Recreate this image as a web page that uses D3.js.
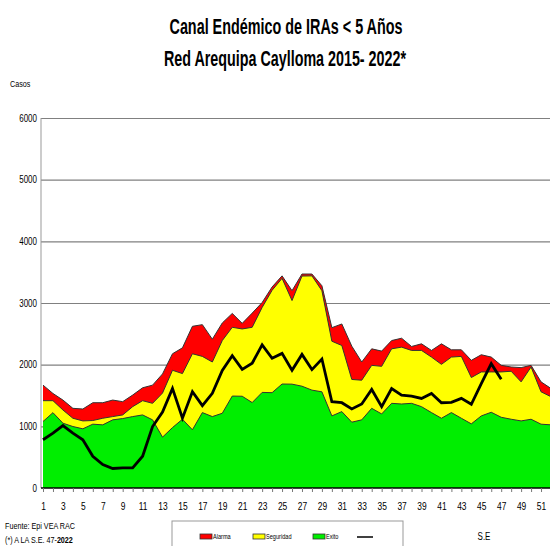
<!DOCTYPE html>
<html>
<head>
<meta charset="utf-8">
<script src="https://cdn.jsdelivr.net/npm/d3@7"></script>
<style>
    body { margin: 0; background: white; }
    svg { display: block; }
    .narrow { font-family: "Liberation Sans Narrow", "Arial Narrow", "Liberation Sans", Arial, sans-serif; }
</style>
</head>
<body>
<div id="chart"></div>
<script>

// semanas epidemiologicas
var semanas = d3.range(1, 53);

// limites del canal endemico (techo de cada zona)
var alarma = [1668, 1533, 1426, 1292, 1281, 1383, 1383, 1426, 1400, 1507, 1625, 1668, 1850,
    2177, 2273, 2622, 2649, 2413, 2676, 2831, 2670, 2836, 3008, 3260, 3440, 3200,
    3470, 3470, 3280, 2600, 2660, 2300, 2043, 2257, 2220, 2391, 2429, 2295, 2338,
    2231, 2338, 2241, 2241, 2070, 2161, 2123, 1989, 1962, 1952, 1989, 1721, 1614];

var seguridad = [1416, 1416, 1265, 1131, 1088, 1094, 1131, 1158, 1185, 1319, 1416, 1373, 1540,
    1909, 1855, 2177, 2134, 2043, 2391, 2606, 2579, 2606, 2928, 3206, 3400, 3040,
    3437, 3440, 3200, 2380, 2311, 1760, 1748, 1989, 1973, 2257, 2284, 2231, 2231,
    2123, 2005, 2123, 2134, 1791, 1882, 1882, 1882, 1893, 1721, 1962, 1560, 1480];

var exito = [1078, 1222, 1051, 997, 960, 1035, 1024, 1105, 1126, 1158, 1185, 1105, 825,
    980, 1115, 944, 1223, 1158, 1212, 1491, 1488, 1385, 1550, 1546, 1686, 1684,
    1651, 1587, 1560, 1169, 1239, 1067, 1105, 1292, 1201, 1373, 1362, 1373, 1319,
    1223, 1131, 1223, 1131, 1040, 1169, 1228, 1147, 1115, 1088, 1115, 1035, 1024];

// casos 2022 hasta la S.E. 47
var casos2022 = [783, 890, 1013, 890, 783, 515, 381, 316, 327, 327, 515, 997, 1230,
    1615, 1133, 1562, 1335, 1535, 1905, 2146, 1924, 2023, 2320, 2104, 2183, 1909,
    2166, 1920, 2091, 1399, 1383, 1282, 1362, 1598, 1319, 1614, 1507, 1491, 1453,
    1534, 1383, 1389, 1453, 1357, 1694, 2016, 1764];

var yTicks = [0, 1000, 2000, 3000, 4000, 5000, 6000];
var xTicks = d3.range(1, 53, 2);

var zonas = [
    {nombre: "Alarma", valores: alarma, color: "#ff0000"},
    {nombre: "Seguridad", valores: seguridad, color: "#ffff00"},
    {nombre: "Exito", valores: exito, color: "#00ee00"}
];

var width = 550, height = 546;

var svg = d3.select("#chart").append("svg")
    .attr("width", width)
    .attr("height", height)
    .attr("class", "narrow");

var x = d3.scaleLinear().domain([1, 52]).range([43, 551]);
var y = d3.scaleLinear().domain([0, 6000]).range([488, 118]);

// titulo
svg.append("text")
    .attr("x", 286).attr("y", 34)
    .attr("text-anchor", "middle")
    .attr("font-size", 22).attr("font-weight", "bold")
    .attr("textLength", 233).attr("lengthAdjust", "spacingAndGlyphs")
    .attr("class", "fijo")
    .text("Canal Endémico de IRAs < 5 Años");
svg.append("text")
    .attr("x", 285).attr("y", 66)
    .attr("text-anchor", "middle")
    .attr("font-size", 22).attr("font-weight", "bold")
    .attr("textLength", 242).attr("lengthAdjust", "spacingAndGlyphs")
    .attr("class", "fijo")
    .text("Red Arequipa Caylloma 2015- 2022*");

svg.append("text")
    .attr("x", 10).attr("y", 87)
    .attr("font-size", 9)
    .text("Casos");

// lineas de la grilla
svg.append("g")
    .attr("transform", "translate(41,0)")
    .call(d3.axisLeft(y).tickValues(yTicks).tickSize(-(width - 41)).tickFormat(d3.format("d")))
    .call(function (g) {
        g.select(".domain").remove();
        g.selectAll(".tick line").attr("stroke", "#808080").attr("stroke-width", 1.2)
            .filter(function (d) { return d === 0; }).remove();
        g.selectAll(".tick text").attr("x", -4).attr("font-size", 10)
            .attr("font-family", null).attr("fill", "#000");
    });

// areas del canal
var area = d3.area()
    .x(function (d, i) { return x(semanas[i]); })
    .y0(y(0))
    .y1(function (d) { return y(d); });

var borde = d3.line()
    .x(function (d, i) { return x(semanas[i]); })
    .y(function (d) { return y(d); });

zonas.forEach(function (z) {
    svg.append("path")
        .datum(z.valores)
        .attr("d", area)
        .attr("fill", z.color);
    svg.append("path")
        .datum(z.valores)
        .attr("d", borde)
        .attr("fill", "none")
        .attr("stroke", "#333")
        .attr("stroke-width", 1);
});

// linea de casos 2022
svg.append("path")
    .datum(casos2022)
    .attr("d", borde)
    .attr("fill", "none")
    .attr("stroke", "#000")
    .attr("stroke-width", 2.8)
    .attr("stroke-linejoin", "miter");

// eje y
svg.append("line")
    .attr("x1", 41).attr("x2", 41)
    .attr("y1", y(6000)).attr("y2", y(0))
    .attr("stroke", "#999");

// eje x
svg.append("g")
    .attr("transform", "translate(0," + y(0) + ")")
    .call(d3.axisBottom(x).tickValues(semanas).tickSize(4).tickFormat(function (d) {
        return xTicks.indexOf(d) >= 0 ? d : "";
    }))
    .call(function (g) {
        g.select(".domain").attr("stroke", "#000").attr("stroke-width", 1.5)
            .attr("d", "M41,0H" + width);
        g.selectAll(".tick line").attr("stroke", "#777");
        g.selectAll(".tick text").attr("y", 15).attr("font-size", 10.5)
            .attr("font-family", null).attr("fill", "#000");
    });

// fuente
svg.append("text")
    .attr("x", 5).attr("y", 529)
    .attr("font-size", 9)
    .text("Fuente: Epi VEA RAC");

// nota con el año en negrita, comprimida con una escala horizontal
var nota = svg.append("text")
    .attr("transform", "translate(5,543) scale(0.8,1)")
    .attr("font-size", 9)
    .attr("class", "fijo");
nota.append("tspan").text("(*) A LA S.E. 47-");
nota.append("tspan").attr("font-weight", "bold").text("2022");

// leyenda
svg.append("rect")
    .attr("x", 172).attr("y", 521)
    .attr("width", 231).attr("height", 40)
    .attr("fill", "white")
    .attr("stroke", "#999");

var legX = [200, 253, 313];
zonas.forEach(function (z, i) {
    svg.append("rect")
        .attr("x", legX[i]).attr("y", 534)
        .attr("width", 12).attr("height", 5)
        .attr("fill", z.color)
        .attr("stroke", "#333").attr("stroke-width", 0.8);
    svg.append("text")
        .attr("x", legX[i] + 13).attr("y", 539)
        .attr("font-size", 7)
        .text(z.nombre);
});
svg.append("line")
    .attr("x1", 357).attr("x2", 373)
    .attr("y1", 537).attr("y2", 537)
    .attr("stroke", "#000").attr("stroke-width", 1.5);

svg.append("text")
    .attr("x", 484).attr("y", 540)
    .attr("text-anchor", "middle")
    .attr("font-size", 10)
    .text("S.E");

// sin fuente angosta: comprimir el texto a lo ancho
svg.selectAll("text:not(.fijo)").each(function () {
    var w = this.getComputedTextLength();
    if (w > 0) {
        d3.select(this)
            .attr("textLength", w * 0.8)
            .attr("lengthAdjust", "spacingAndGlyphs");
    }
});

</script>
</body>
</html>
